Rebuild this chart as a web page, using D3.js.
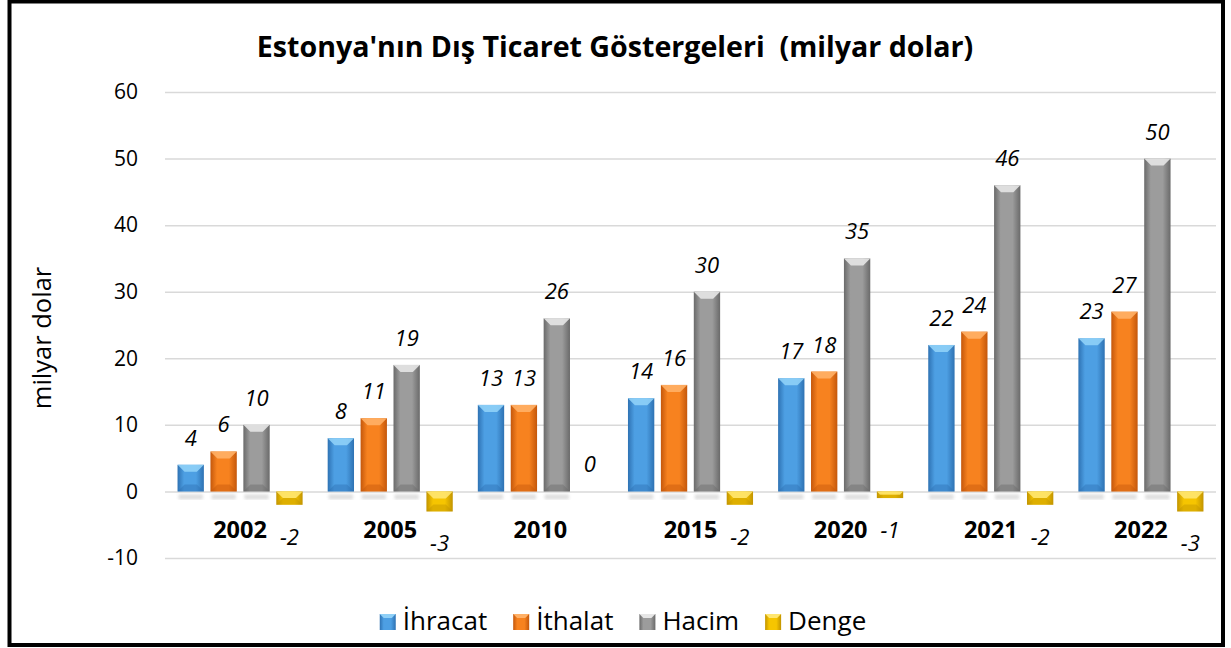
<!DOCTYPE html>
<html>
<head>
<meta charset="utf-8">
<script src="https://cdn.jsdelivr.net/npm/d3@7"></script>
<style>
  body { margin: 0; background: #fff; }
  svg text { font-family: "Open Sans", sans-serif; white-space: pre; }
</style>
</head>
<body>
<script>
// data
const years = ["2002", "2005", "2010", "2015", "2020", "2021", "2022"];
const seriesNames = ["İhracat", "İthalat", "Hacim", "Denge"];
const ihracat = [4, 8, 13, 14, 17, 22, 23];
const ithalat = [6, 11, 13, 16, 18, 24, 27];
const hacim = [10, 19, 26, 30, 35, 46, 50];
const denge = [-2, -3, 0, -2, -1, -2, -3];
const yTicks = [-10, 0, 10, 20, 30, 40, 50, 60];

const seriesValues = [ihracat, ithalat, hacim, denge];
// colors: edge, middle, top bevel
const colors = [
  {edge: "#2e72b3", mid: "#4d9fe3", top: "#8fd0f7"},
  {edge: "#c4570b", mid: "#f7821f", top: "#ffb066"},
  {edge: "#6a6a6a", mid: "#9c9c9c", top: "#e6e6e6"},
  {edge: "#c29400", mid: "#f6c500", top: "#ffe670"}
];

const W = 1231, H = 648;
const svg = d3.select("body").append("svg").attr("width", W).attr("height", H);
const defs = svg.append("defs");

colors.forEach((c, i) => {
  const g = defs.append("linearGradient").attr("id", "grad" + i)
    .attr("x1", "0").attr("x2", "1").attr("y1", "0").attr("y2", "0");
  g.append("stop").attr("offset", "0%").attr("stop-color", c.edge);
  g.append("stop").attr("offset", "25%").attr("stop-color", c.mid);
  g.append("stop").attr("offset", "70%").attr("stop-color", c.mid);
  g.append("stop").attr("offset", "100%").attr("stop-color", c.edge);
});
defs.append("filter").attr("id", "blur").append("feGaussianBlur").attr("stdDeviation", 1.5);

// outer border
svg.append("rect").attr("x", 9.5).attr("y", 1.5).attr("width", 1213.5).attr("height", 643.5)
  .attr("fill", "none").attr("stroke", "#000").attr("stroke-width", 4);

// title
svg.append("text").attr("x", 615).attr("y", 57).attr("text-anchor", "middle")
  .attr("font-size", 28.6).attr("font-weight", "bold").attr("fill", "#000")
  .text("Estonya'nın Dış Ticaret Göstergeleri  (milyar dolar)");

// scales
const y = d3.scaleLinear().domain([-10, 60]).range([558, 92]);
const x0 = d3.scaleBand().domain(years).range([165, 1216]).paddingInner(0.167).paddingOuter(0.0835);
const x1 = d3.scaleBand().domain(seriesNames).range([0, x0.bandwidth()]).paddingInner(0.2);

// grid + y axis
const yAxis = d3.axisLeft(y).tickValues(yTicks).tickFormat(d => String(d))
  .tickSize(-(1216 - 165)).tickPadding(27);
const gy = svg.append("g").attr("transform", "translate(165,0)").call(yAxis);
gy.select(".domain").remove();
gy.selectAll(".tick line").attr("stroke", "#d9d9d9").attr("stroke-width", 1.5);
gy.selectAll(".tick text").attr("font-size", 21).attr("fill", "#000")
  .attr("font-family", "'Open Sans', sans-serif");

// y title
svg.append("text").attr("transform", "translate(51,338) rotate(-90)").attr("text-anchor", "middle")
  .attr("font-size", 25.5).attr("fill", "#000").text("milyar dolar");

// bars
const rows = [];
years.forEach((yr, i) => {
  seriesNames.forEach((s, j) => rows.push({year: yr, series: s, j: j, value: seriesValues[j][i]}));
});

const bars = svg.append("g");
const barX = d => x0(d.year) + x1(d.series);
const bw = x1.bandwidth();

// soft shadow under positive bars
bars.selectAll("rect.shadow").data(rows.filter(d => d.value > 0)).join("rect")
  .attr("class", "shadow")
  .attr("x", d => barX(d) + 1).attr("y", y(0) + 3).attr("width", bw - 2).attr("height", 5)
  .attr("fill", "#d0d0d0").attr("opacity", 0.7).attr("filter", "url(#blur)");

bars.selectAll("rect.bar").data(rows.filter(d => d.value !== 0)).join("rect")
  .attr("class", "bar")
  .attr("x", barX)
  .attr("y", d => y(Math.max(0, d.value)))
  .attr("width", bw)
  .attr("height", d => Math.abs(y(d.value) - y(0)))
  .attr("fill", d => `url(#grad${d.j})`);

// top bevel
const bev = 7;
bars.selectAll("path.bevel").data(rows.filter(d => d.value !== 0)).join("path")
  .attr("class", "bevel")
  .attr("d", d => {
    const x = barX(d), t = y(Math.max(0, d.value));
    const h = Math.min(bev, Math.abs(y(d.value) - y(0)) / 2);
    return `M${x},${t}L${x + bw},${t}L${x + bw - h},${t + h}L${x + h},${t + h}Z`;
  })
  .attr("fill", d => colors[d.j].top).attr("opacity", 0.9);

// bottom bevel (darker)
bars.selectAll("path.bbev").data(rows.filter(d => d.value !== 0)).join("path")
  .attr("class", "bbev")
  .attr("d", d => {
    const x = barX(d), b = y(Math.min(0, d.value));
    const h = Math.min(bev, Math.abs(y(d.value) - y(0)) / 2);
    return `M${x},${b}L${x + bw},${b}L${x + bw - h},${b - h}L${x + h},${b - h}Z`;
  })
  .attr("fill", d => colors[d.j].edge).attr("opacity", 0.45);

// value labels
svg.append("g").selectAll("text").data(rows).join("text")
  .attr("x", d => barX(d) + bw / 2)
  .attr("y", d => d.value >= 0 ? y(d.value) - 19 : y(d.value) + 40)
  .attr("text-anchor", "middle").attr("font-size", 22).attr("font-style", "italic").attr("fill", "#000")
  .text(d => d.value);

// category labels
svg.append("g").selectAll("text").data(years).join("text")
  .attr("x", d => x0(d) + x0.bandwidth() / 2).attr("y", 538)
  .attr("text-anchor", "middle").attr("font-size", 23.5).attr("font-weight", "bold").attr("fill", "#000")
  .text(d => d);

// legend
const legend = svg.append("g");
let lx = 0;
seriesNames.forEach((s, j) => {
  const g = legend.append("g");
  g.append("rect").attr("x", 0).attr("y", -16).attr("width", 16).attr("height", 16).attr("fill", `url(#grad${j})`);
  g.append("path").attr("d", "M0,-16L16,-16L12,-12L4,-12Z").attr("fill", colors[j].top);
  const t = g.append("text").attr("x", 23).attr("y", 0).attr("font-size", 26).attr("fill", "#000").text(s);
  const w = 23 + t.node().getComputedTextLength();
  g.attr("transform", `translate(${lx},630)`);
  lx += w + 26;
});
const totalW = lx - 26;
legend.attr("transform", `translate(${623 - totalW / 2},0)`);
</script>
</body>
</html>
